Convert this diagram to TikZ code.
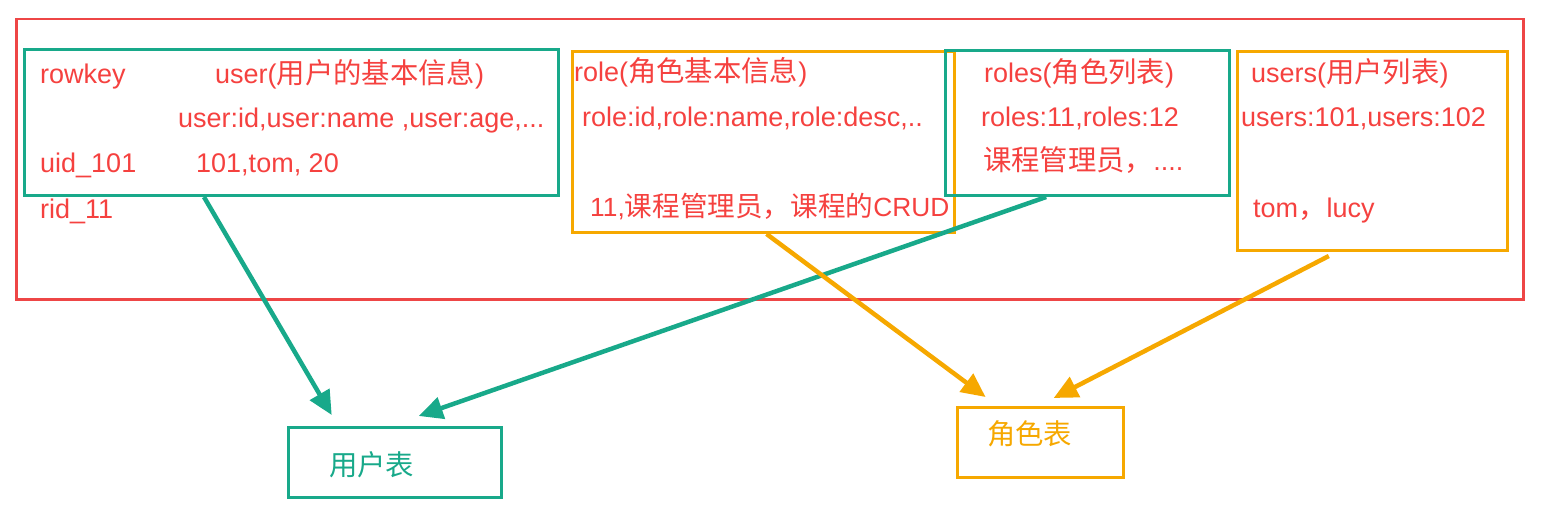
\documentclass[tikz,border=0pt]{standalone}
\usepackage{fontspec}
\setmainfont{Liberation Sans}
\newfontfamily\cjk[Scale=1.05]{Noto Sans CJK SC}
\usetikzlibrary{arrows.meta,calc}
\definecolor{boxred}{HTML}{EE4646}
\definecolor{txtred}{HTML}{F5413F}
\definecolor{tgreen}{HTML}{18A98A}
\definecolor{torange}{HTML}{F6A800}
\tikzset{
  txt/.style={anchor=base west, inner sep=0pt, text=txtred, font=\fontsize{27}{32}\selectfont},
  bigtxt/.style={anchor=base west, inner sep=0pt, font=\cjk\fontsize{27}{32}\selectfont},
  gbox/.style={draw=tgreen, line width=3pt, anchor=north west, inner sep=0pt},
  obox/.style={draw=torange, line width=3pt, anchor=north west, inner sep=0pt},
  garrow/.style={draw=tgreen, line width=4.5pt, -{Triangle[length=24pt,width=22pt]}},
  oarrow/.style={draw=torange, line width=4.5pt, -{Triangle[length=24pt,width=22pt]}},
}
\begin{document}
\begin{tikzpicture}[x=1pt,y=-1pt]
\useasboundingbox (0,0) rectangle (1547,508);
% outer red frame
\node[draw=boxred, line width=2.5pt, anchor=north west, inner sep=0pt, minimum width=1507pt, minimum height=280pt] (frame) at (15,18) {};
% boxes
\node[gbox, minimum width=534pt, minimum height=146pt] (ub) at (23,48) {};
\node[obox, minimum width=382pt, minimum height=181pt] (rob) at (571,50) {};
\node[gbox, minimum width=284pt, minimum height=145pt] (rsb) at (944,49) {};
\node[obox, minimum width=270pt, minimum height=199pt] (usb) at (1236,50) {};
\node[gbox, minimum width=213pt, minimum height=70pt] (ut) at (287,426) {};
\node[obox, minimum width=166pt, minimum height=70pt] (rt) at (956,406) {};
% texts in user box
\node[txt] (t1) at (40,84) {rowkey};
\node[txt] (t2) at (215,84) {user({\cjk 用户的基本信息})};
\node[txt] (t3) at (178,128) {user:id,user:name ,user:age,...};
\node[txt] (t4) at (40,172) {uid\_101};
\node[txt] (t5) at (196,172) {101,tom, 20};
\node[txt] (t6) at (40,218) {rid\_11};
% role box
\node[txt] (t7) at (574,82) {role({\cjk 角色基本信息})};
\node[txt] (t8) at (582,127) {role:id,role:name,role:desc,..};
\node[txt, font=\fontsize{26.3}{32}\selectfont] (t9) at (590,216) {11,{\cjk 课程管理员，课程的}CRUD};
% roles box
\node[txt] (t10) at (984,83) {roles({\cjk 角色列表})};
\node[txt] (t11) at (981,127) {roles:11,roles:12};
\node[txt] (t12) at (983,171) {{\cjk 课程管理员，}....};
% users box
\node[txt] (t13) at (1251,83) {users({\cjk 用户列表})};
\node[txt] (t14) at (1241,127) {users:101,users:102};
\node[txt] (t15) at (1253,217) {tom{\cjk ，}lucy};
% bottom labels
\node[bigtxt, text=tgreen] (l1) at (329,475) {用户表};
\node[bigtxt, text=torange] (l2) at (987,444) {角色表};
% arrows
\draw[garrow] ($(ub.south west)!0.337!(ub.south east)$) -- ($(ut.north west)!0.207!(ut.north east)+(0,-11)$);
\draw[garrow] ($(rsb.south west)!0.356!(rsb.south east)$) -- ($(ut.north west)!0.61!(ut.north east)+(0,-10)$);
\draw[oarrow] ($(rob.south west)!0.508!(rob.south east)$) -- ($(rt.north west)!0.175!(rt.north east)+(0,-9)$);
\draw[oarrow] ($(usb.south west)!0.34!(usb.south east)+(0,4)$) -- ($(rt.north west)!0.578!(rt.north east)+(0,-8)$);
\end{tikzpicture}
\end{document}
